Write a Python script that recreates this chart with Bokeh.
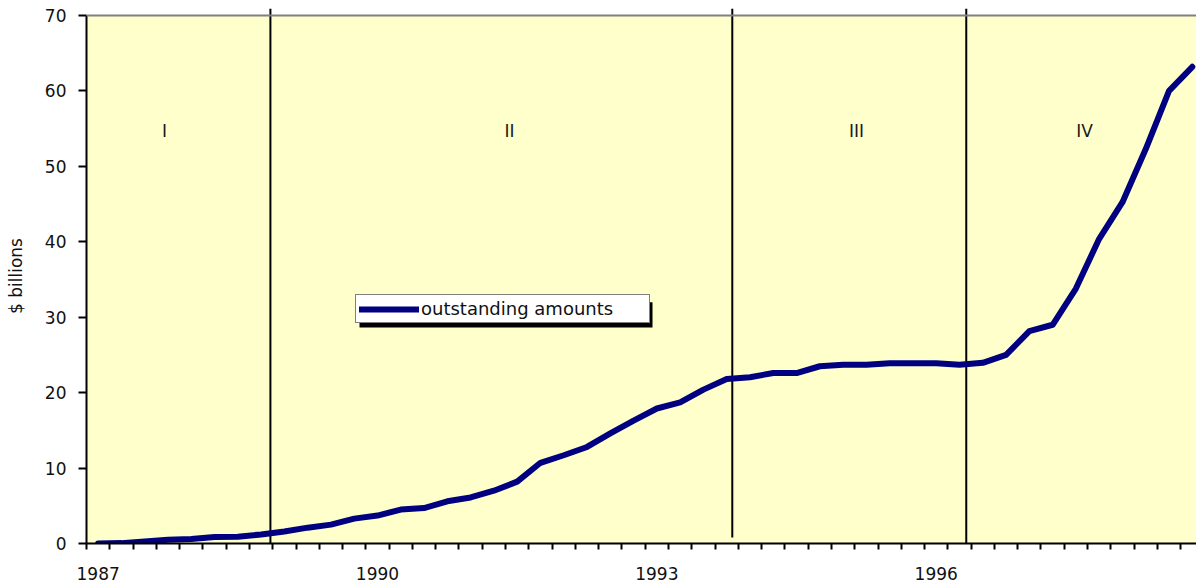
from bokeh.plotting import figure
from bokeh.models import (Range1d, FixedTicker, Span, BoxAnnotation, Legend, LegendItem,
                          ColumnDataSource)
from bokeh.core.properties import value
from bokeh.embed import file_html
from bokeh.resources import INLINE

# ---- data ----
quarters = [f"{y}Q{q}" for y in range(1987, 1999) for q in range(1, 5)]
outstanding = [0.0, 0.05, 0.27, 0.5, 0.6, 0.85, 0.9, 1.2,
               1.6, 2.1, 2.5, 3.3, 3.7, 4.5, 4.7, 5.6,
               6.1, 7.0, 8.2, 10.7, 11.7, 12.8, 14.6, 16.3,
               17.9, 18.7, 20.4, 21.8, 22.05, 22.6, 22.6, 23.5,
               23.7, 23.7, 23.9, 23.9, 23.9, 23.7, 23.95, 25.0,
               28.15, 29.0, 33.8, 40.4, 45.25, 52.3, 60.0, 63.2]
tick_labels = ["1987", "1990", "1993", "1996"]
period_names = ["I", "II", "III", "IV"]
y_ticks = [0, 10, 20, 30, 40, 50, 60, 70]

FONT = "DejaVu Sans"

xs = list(range(len(quarters)))
src = ColumnDataSource(dict(x=xs, y=outstanding, q=quarters))

p = figure(width=1196, height=588, output_backend="svg", toolbar_location=None,
           x_range=Range1d(-0.5, 47.18), y_range=Range1d(0, 70.93),
           min_border_left=86, min_border_right=0, min_border_top=8, min_border_bottom=45)
p.background_fill_color = "white"
p.border_fill_color = "white"
p.outline_line_color = None
p.xgrid.visible = False
p.ygrid.visible = False

# plot area background and top border
p.add_layout(BoxAnnotation(bottom=0, top=70, fill_color="#FFFFCC", fill_alpha=1.0,
                           line_color=None, level="underlay"))
p.add_layout(Span(location=70, dimension="width", line_color="#808080", line_width=2))

# period separators (layout positions in category units)
sep_x = [7.4, 27.24, 37.29]
sep_y0 = [0, 0.8, 0]
p.segment(x0=sep_x, y0=sep_y0, x1=sep_x, y1=[70.93] * 3, line_color="black", line_width=2)

# period labels
lab_x = [2.85, 17.67, 32.58, 42.37]
p.text(x=lab_x, y=[54.75] * 4, text=period_names, text_font=value(FONT),
       text_font_size="17px", text_align="center", text_baseline="middle",
       text_color="#1a1a1a")

line_r = p.line("x", "y", source=src, line_color="#000080", line_width=6,
                line_join="round", line_cap="round")

# axes
yax = p.yaxis[0]
yax.ticker = FixedTicker(ticks=y_ticks)
yax.bounds = (0, 70)
yax.axis_line_width = 2
yax.axis_line_color = "black"
yax.major_tick_line_width = 2
yax.major_tick_out = 8
yax.major_tick_in = 0
yax.minor_tick_line_color = None
yax.major_label_text_font = FONT
yax.major_label_text_font_size = "17px"
yax.major_label_text_color = "#111111"
yax.major_label_standoff = 12
yax.axis_label = "$ billions"
yax.axis_label_text_font = FONT
yax.axis_label_text_font_size = "17px"
yax.axis_label_text_font_style = "normal"
yax.axis_label_text_color = "#111111"
yax.axis_label_standoff = 16

tick_pos = [quarters.index(t + "Q1") for t in tick_labels]
xax = p.xaxis[0]
xax.ticker = FixedTicker(ticks=tick_pos, minor_ticks=[i - 0.5 for i in range(len(quarters) + 1)])
xax.major_label_overrides = {pos: lab for pos, lab in zip(tick_pos, tick_labels)}
xax.axis_line_width = 2
xax.axis_line_color = "black"
xax.major_tick_line_color = None
xax.major_tick_out = 0
xax.major_tick_in = 0
xax.minor_tick_line_color = "black"
xax.minor_tick_line_width = 2
xax.minor_tick_out = 6
xax.minor_tick_in = 0
xax.major_label_text_font = FONT
xax.major_label_text_font_size = "17px"
xax.major_label_text_color = "#111111"
xax.major_label_standoff = 17

# legend shadow (drawn first, offset 4px down/right from the legend box)
p.add_layout(BoxAnnotation(left=11.227, right=23.813, bottom=28.64, top=32.0,
                           fill_color="black", fill_alpha=1.0, line_color=None))
legend = Legend(items=[LegendItem(label="outstanding amounts", renderers=[line_r])],
                location=(269, 220), padding=3, margin=0, spacing=0,
                glyph_width=60, glyph_height=18, label_standoff=2, label_width=225,
                label_height=18,
                label_text_font=FONT, label_text_font_size="18px", label_text_color="#111111",
                background_fill_color="white", background_fill_alpha=1.0,
                border_line_color="black", border_line_width=1.5)
p.add_layout(legend, "center")

open("out.html", "w").write(file_html(p, INLINE))
